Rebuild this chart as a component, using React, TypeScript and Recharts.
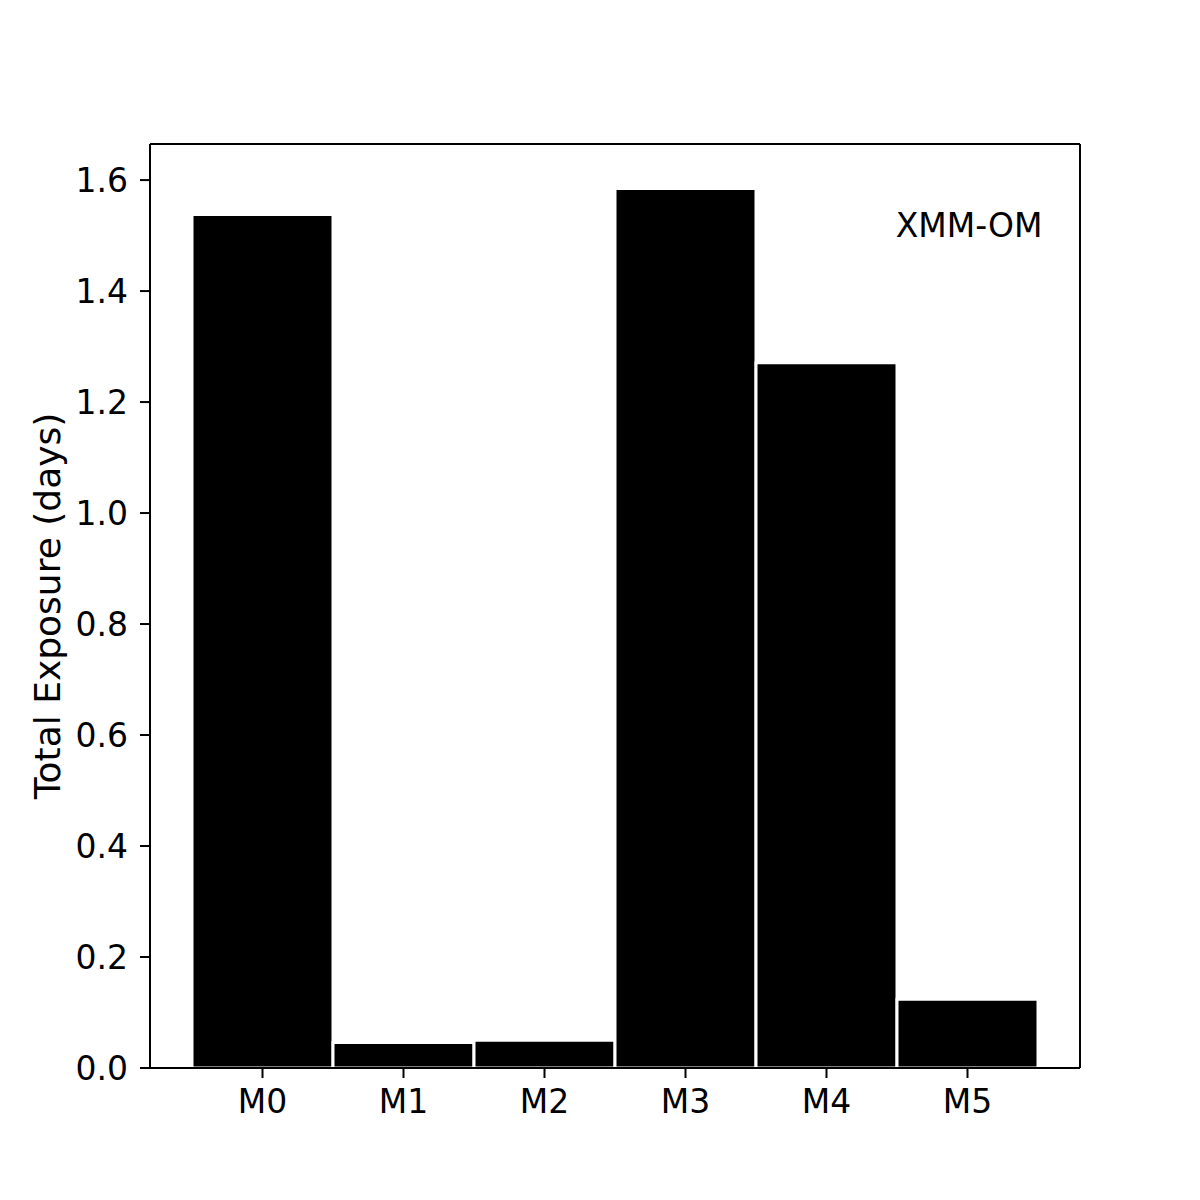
import { Bar, BarChart, ReferenceDot, XAxis, YAxis } from 'recharts';

const modes = ['M0', 'M1', 'M2', 'M3', 'M4', 'M5'];
const exposureDays = [1.538, 0.046, 0.05, 1.585, 1.271, 0.124];
const yTicks = [0, 0.2, 0.4, 0.6, 0.8, 1.0, 1.2, 1.4, 1.6];

const FONT = 'DejaVu Sans, sans-serif';
const tickStyle = { fontSize: 33, fill: '#000', fontFamily: FONT };
const spine = { stroke: '#000', strokeWidth: 2 };

export default function App() {
  const data = modes.map((m, i) => ({ mode: m, days: exposureDays[i] }));

  return (
    <div style={{ position: 'absolute', left: 0, top: 0, width: 1200, height: 1200, background: '#fff' }}>
      <BarChart
        width={1200}
        height={1200}
        data={data}
        margin={{ top: 143, right: 119, bottom: 0, left: 0 }}
        barCategoryGap={0}
      >
        <XAxis
          dataKey="mode"
          height={132}
          padding={{ left: 42, right: 42 }}
          tick={tickStyle}
          tickSize={10}
          tickMargin={12}
          axisLine={spine}
          tickLine={spine}
        />
        <XAxis
          xAxisId="top"
          dataKey="mode"
          orientation="top"
          height={1}
          padding={{ left: 42, right: 42 }}
          tick={false}
          tickLine={false}
          axisLine={spine}
        />
        <YAxis
          width={150}
          domain={[0, 1.665]}
          ticks={yTicks}
          allowDataOverflow
          tick={tickStyle}
          tickSize={10}
          tickMargin={12}
          tickFormatter={(v: number) => v.toFixed(1)}
          axisLine={spine}
          tickLine={spine}
          label={{
            value: 'Total Exposure (days)',
            angle: -90,
            position: 'insideLeft',
            offset: 47,
            style: { textAnchor: 'middle', fontSize: 36, fill: '#000', fontFamily: FONT },
          }}
        />
        <YAxis
          yAxisId="right"
          orientation="right"
          width={1}
          domain={[0, 1.665]}
          tick={false}
          tickLine={false}
          axisLine={spine}
        />
        <Bar dataKey="days" fill="#000" stroke="#fff" strokeWidth={3} isAnimationActive={false} />
        <ReferenceDot
          x="M5"
          y={1.519}
          r={0}
          stroke="none"
          fill="none"
          label={(props: any) => (
            <text
              x={props.viewBox.x + 75}
              y={props.viewBox.y}
              textAnchor="end"
              dominantBaseline="central"
              fontSize={33}
              fontFamily={FONT}
              fill="#000"
            >
              XMM-OM
            </text>
          )}
        />
      </BarChart>
    </div>
  );
}
